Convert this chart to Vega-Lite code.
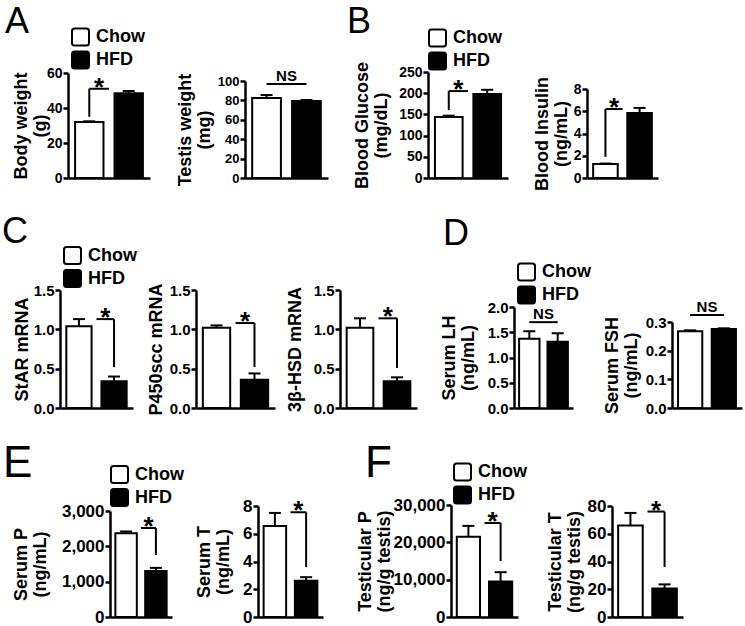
{
"$schema": "https://vega.github.io/schema/vega-lite/v6.json",
"background": "white",
"padding": {"left": 2, "top": 3, "right": 2, "bottom": 0},
"datasets": {
"none": [],
"bw": [{"group":"Chow","mean":32,"upper":32.4},{"group":"HFD","mean":48.5,"upper":49.7}],
"bw_s": [{"lo":35,"top":51,"label":"*"}],
"tw": [{"group":"Chow","mean":82.5,"upper":85.5},{"group":"HFD","mean":79.5,"upper":80.3}],
"tw_s": [{"top":97,"label":"NS"}],
"bg": [{"group":"Chow","mean":144,"upper":147},{"group":"HFD","mean":198,"upper":208}],
"bg_s": [{"lo":160,"top":205,"label":"*"}],
"bi": [{"group":"Chow","mean":1.25,"upper":1.3},{"group":"HFD","mean":5.85,"upper":6.3}],
"bi_s": [{"lo":1.9,"top":6.2,"label":"*"}],
"star": [{"group":"Chow","mean":1.04,"upper":1.13},{"group":"HFD","mean":0.34,"upper":0.4}],
"star_s": [{"lo":0.52,"top":1.13,"label":"*"}],
"p450": [{"group":"Chow","mean":1.02,"upper":1.05},{"group":"HFD","mean":0.36,"upper":0.44}],
"p450_s": [{"lo":0.52,"top":1.08,"label":"*"}],
"hsd": [{"group":"Chow","mean":1.02,"upper":1.14},{"group":"HFD","mean":0.34,"upper":0.39}],
"hsd_s": [{"lo":0.51,"top":1.14,"label":"*"}],
"lh": [{"group":"Chow","mean":1.37,"upper":1.52},{"group":"HFD","mean":1.31,"upper":1.48}],
"lh_s": [{"top":1.7,"label":"NS"}],
"fsh": [{"group":"Chow","mean":0.268,"upper":0.271},{"group":"HFD","mean":0.276,"upper":0.278}],
"fsh_s": [{"top":0.324,"label":"NS"}],
"sp": [{"group":"Chow","mean":2370,"upper":2420},{"group":"HFD","mean":1300,"upper":1390}],
"sp_s": [{"lo":1755,"top":2519,"label":"*"}],
"st": [{"group":"Chow","mean":6.55,"upper":7.5},{"group":"HFD","mean":2.62,"upper":2.87}],
"st_s": [{"lo":3.6,"top":7.55,"label":"*"}],
"tp": [{"group":"Chow","mean":21500,"upper":24400},{"group":"HFD","mean":9500,"upper":12000}],
"tp_s": [{"lo":15000,"top":25180,"label":"*"}],
"tt": [{"group":"Chow","mean":66,"upper":75},{"group":"HFD","mean":20.5,"upper":23.5}],
"tt_s": [{"lo":36,"top":76,"label":"*"}]
},
"columns": 13,
"align": "each",
"bounds": "flush",
"spacing": {"row": 97, "column": 0},
"resolve": {"scale": {"fill": "independent"}, "legend": {"fill": "independent"}},
"concat": [
{"width": 8, "height": 1, "data": {"name": "none"}, "mark": "point"},
{
"width": 42, "height": 106,
"title": {"text": "A", "frame": "group", "dx": -63, "offset": -13},
"resolve": {"axis": {"x": "independent", "y": "independent"}},
"layer": [
{"data": {"name": "bw"}, "mark": {"type": "bar", "stroke": "black", "strokeWidth": 2},
 "encoding": {
  "x": {"field": "group", "type": "nominal", "scale": {"domain": ["Chow","HFD"], "range": [0, 82], "paddingInner": 0.28, "paddingOuter": 0.18}, "axis": {"labels": false, "ticks": false, "title": null}},
  "y": {"field": "mean", "type": "quantitative", "scale": {"domain": [0, 60], "range": [106, 1], "nice": false}, "axis": {"title": ["Body weight", "(g)"], "values": [0, 20, 40, 60], "titlePadding": -3, "labelFontSize": 14}},
  "fill": {"field": "group", "type": "nominal", "scale": {"domain": ["Chow","HFD"], "range": ["white","black"]}, "legend": {"orient": "none", "legendX": 3, "legendY": -44.5, "title": null}}}},
{"data": {"name": "bw"}, "mark": {"type": "rule", "strokeWidth": 2, "color": "black"},
 "encoding": {"x": {"field": "group", "type": "nominal", "axis": null}, "y": {"field": "mean", "type": "quantitative", "axis": null}, "y2": {"field": "upper"}}},
{"data": {"name": "bw"}, "mark": {"type": "tick", "size": 12, "thickness": 2, "color": "black", "opacity": 1},
 "encoding": {"x": {"field": "group", "type": "nominal", "axis": null}, "y": {"field": "upper", "type": "quantitative", "axis": null}}},
{"data": {"name": "bw_s"}, "mark": {"type": "rule", "strokeWidth": 2, "color": "black"},
 "encoding": {"x": {"datum": "Chow", "bandPosition": 0.5, "axis": null}, "y": {"field": "lo", "type": "quantitative", "axis": null}, "y2": {"field": "top"}}},
{"data": {"name": "bw_s"}, "mark": {"type": "rule", "strokeWidth": 2, "color": "black"},
 "encoding": {"x": {"datum": "Chow", "bandPosition": 0.5, "axis": null}, "x2": {"datum": "Chow", "bandPosition": 1.194}, "y": {"field": "top", "type": "quantitative", "axis": null}}},
{"data": {"name": "bw_s"}, "mark": {"type": "text", "fontSize": 26, "fontWeight": "bold", "baseline": "alphabetic", "dy": 7},
 "encoding": {"x": {"datum": "Chow", "bandPosition": 0.847, "axis": null}, "y": {"field": "top", "type": "quantitative", "axis": null}, "text": {"field": "label"}}}
]
},
{"width": 86, "height": 1, "data": {"name": "none"}, "mark": "point"},
{"width": 49, "height": 1, "data": {"name": "none"}, "mark": "point"},
{
"width": 13, "height": 106,
"resolve": {"axis": {"x": "independent", "y": "independent"}},
"layer": [
{"data": {"name": "tw"}, "mark": {"type": "bar", "stroke": "black", "strokeWidth": 2},
 "encoding": {
  "x": {"field": "group", "type": "nominal", "scale": {"domain": ["Chow","HFD"], "range": [0, 83], "paddingInner": 0.28, "paddingOuter": 0.18}, "axis": {"labels": false, "ticks": false, "title": null}},
  "y": {"field": "mean", "type": "quantitative", "scale": {"domain": [0, 100], "range": [106, 9], "nice": false}, "axis": {"title": ["Testis weight", "(mg)"], "values": [0, 20, 40, 60, 80, 100], "titlePadding": 4, "labelFontSize": 13}},
  "fill": {"field": "group", "type": "nominal", "scale": {"domain": ["Chow","HFD"], "range": ["white","black"]}, "legend": null}}},
{"data": {"name": "tw"}, "mark": {"type": "rule", "strokeWidth": 2, "color": "black"},
 "encoding": {"x": {"field": "group", "type": "nominal", "axis": null}, "y": {"field": "mean", "type": "quantitative", "axis": null}, "y2": {"field": "upper"}}},
{"data": {"name": "tw"}, "mark": {"type": "tick", "size": 12, "thickness": 2, "color": "black", "opacity": 1},
 "encoding": {"x": {"field": "group", "type": "nominal", "axis": null}, "y": {"field": "upper", "type": "quantitative", "axis": null}}},
{"data": {"name": "tw_s"}, "mark": {"type": "rule", "strokeWidth": 2, "color": "black"},
 "encoding": {"x": {"datum": "Chow", "bandPosition": 0.5, "axis": null}, "x2": {"datum": "HFD", "bandPosition": 0.5}, "y": {"field": "top", "type": "quantitative", "axis": null}}},
{"data": {"name": "tw_s"}, "mark": {"type": "text", "fontSize": 15, "fontWeight": "bold", "baseline": "alphabetic", "dy": -3},
 "encoding": {"x": {"datum": "Chow", "bandPosition": 1.194, "axis": null}, "y": {"field": "top", "type": "quantitative", "axis": null}, "text": {"field": "label"}}}
]
},
{"width": 82, "height": 1, "data": {"name": "none"}, "mark": "point"},
{"width": 88, "height": 1, "data": {"name": "none"}, "mark": "point"},
{
"width": 23, "height": 106,
"title": {"text": "B", "frame": "group", "dx": -81, "offset": -12},
"resolve": {"axis": {"x": "independent", "y": "independent"}},
"layer": [
{"data": {"name": "bg"}, "mark": {"type": "bar", "stroke": "black", "strokeWidth": 2},
 "encoding": {
  "x": {"field": "group", "type": "nominal", "scale": {"domain": ["Chow","HFD"], "range": [0, 80], "paddingInner": 0.28, "paddingOuter": 0.18}, "axis": {"labels": false, "ticks": false, "title": null}},
  "y": {"field": "mean", "type": "quantitative", "scale": {"domain": [0, 250], "range": [106, 0], "nice": false}, "axis": {"title": ["Blood Glucose", "(mg/dL)"], "values": [0, 50, 100, 150, 200, 250], "titlePadding": 8, "labelFontSize": 14}},
  "fill": {"field": "group", "type": "nominal", "scale": {"domain": ["Chow","HFD"], "range": ["white","black"]}, "legend": {"orient": "none", "legendX": 0, "legendY": -43.5, "title": null}}}},
{"data": {"name": "bg"}, "mark": {"type": "rule", "strokeWidth": 2, "color": "black"},
 "encoding": {"x": {"field": "group", "type": "nominal", "axis": null}, "y": {"field": "mean", "type": "quantitative", "axis": null}, "y2": {"field": "upper"}}},
{"data": {"name": "bg"}, "mark": {"type": "tick", "size": 12, "thickness": 2, "color": "black", "opacity": 1},
 "encoding": {"x": {"field": "group", "type": "nominal", "axis": null}, "y": {"field": "upper", "type": "quantitative", "axis": null}}},
{"data": {"name": "bg_s"}, "mark": {"type": "rule", "strokeWidth": 2, "color": "black"},
 "encoding": {"x": {"datum": "Chow", "bandPosition": 0.5, "axis": null}, "y": {"field": "lo", "type": "quantitative", "axis": null}, "y2": {"field": "top"}}},
{"data": {"name": "bg_s"}, "mark": {"type": "rule", "strokeWidth": 2, "color": "black"},
 "encoding": {"x": {"datum": "Chow", "bandPosition": 0.5, "axis": null}, "x2": {"datum": "Chow", "bandPosition": 1.194}, "y": {"field": "top", "type": "quantitative", "axis": null}}},
{"data": {"name": "bg_s"}, "mark": {"type": "text", "fontSize": 26, "fontWeight": "bold", "baseline": "alphabetic", "dy": 7},
 "encoding": {"x": {"datum": "Chow", "bandPosition": 0.847, "axis": null}, "y": {"field": "top", "type": "quantitative", "axis": null}, "text": {"field": "label"}}}
]
},
{"width": 63, "height": 1, "data": {"name": "none"}, "mark": "point"},
{"width": 73, "height": 1, "data": {"name": "none"}, "mark": "point"},
{
"width": 25, "height": 106,
"resolve": {"axis": {"x": "independent", "y": "independent"}},
"layer": [
{"data": {"name": "bi"}, "mark": {"type": "bar", "stroke": "black", "strokeWidth": 2},
 "encoding": {
  "x": {"field": "group", "type": "nominal", "scale": {"domain": ["Chow","HFD"], "range": [0, 71], "paddingInner": 0.28, "paddingOuter": 0.18}, "axis": {"labels": false, "ticks": false, "title": null}},
  "y": {"field": "mean", "type": "quantitative", "scale": {"domain": [0, 8], "range": [106, 17], "nice": false}, "axis": {"title": ["Blood Insulin", "(ng/mL)"], "values": [0, 2, 4, 6, 8], "titlePadding": 3, "labelFontSize": 14}},
  "fill": {"field": "group", "type": "nominal", "scale": {"domain": ["Chow","HFD"], "range": ["white","black"]}, "legend": null}}},
{"data": {"name": "bi"}, "mark": {"type": "rule", "strokeWidth": 2, "color": "black"},
 "encoding": {"x": {"field": "group", "type": "nominal", "axis": null}, "y": {"field": "mean", "type": "quantitative", "axis": null}, "y2": {"field": "upper"}}},
{"data": {"name": "bi"}, "mark": {"type": "tick", "size": 12, "thickness": 2, "color": "black", "opacity": 1},
 "encoding": {"x": {"field": "group", "type": "nominal", "axis": null}, "y": {"field": "upper", "type": "quantitative", "axis": null}}},
{"data": {"name": "bi_s"}, "mark": {"type": "rule", "strokeWidth": 2, "color": "black"},
 "encoding": {"x": {"datum": "Chow", "bandPosition": 0.5, "axis": null}, "y": {"field": "lo", "type": "quantitative", "axis": null}, "y2": {"field": "top"}}},
{"data": {"name": "bi_s"}, "mark": {"type": "rule", "strokeWidth": 2, "color": "black"},
 "encoding": {"x": {"datum": "Chow", "bandPosition": 0.5, "axis": null}, "x2": {"datum": "Chow", "bandPosition": 1.194}, "y": {"field": "top", "type": "quantitative", "axis": null}}},
{"data": {"name": "bi_s"}, "mark": {"type": "text", "fontSize": 26, "fontWeight": "bold", "baseline": "alphabetic", "dy": 7},
 "encoding": {"x": {"datum": "Chow", "bandPosition": 0.847, "axis": null}, "y": {"field": "top", "type": "quantitative", "axis": null}, "text": {"field": "label"}}}
]
},
{"width": 60, "height": 1, "data": {"name": "none"}, "mark": "point"},
{"width": 70, "height": 1, "data": {"name": "none"}, "mark": "point"},
{
"width": 8, "height": 133,
"title": {"text": "C", "frame": "group", "dx": -58, "offset": -4.6},
"resolve": {"axis": {"x": "independent", "y": "independent"}},
"layer": [
{"data": {"name": "star"}, "mark": {"type": "bar", "stroke": "black", "strokeWidth": 2},
 "encoding": {
  "x": {"field": "group", "type": "nominal", "scale": {"domain": ["Chow","HFD"], "range": [0, 73], "paddingInner": 0.28, "paddingOuter": 0.18}, "axis": {"labels": false, "ticks": false, "title": null}},
  "y": {"field": "mean", "type": "quantitative", "scale": {"domain": [0, 1.5], "range": [133, 15], "nice": false}, "axis": {"title": "StAR mRNA", "values": [0, 0.5, 1, 1.5], "format": ".1f", "titlePadding": 2, "labelFontSize": 15}},
  "fill": {"field": "group", "type": "nominal", "scale": {"domain": ["Chow","HFD"], "range": ["white","black"]}, "legend": {"orient": "none", "legendX": 3, "legendY": -29, "title": null}}}},
{"data": {"name": "star"}, "mark": {"type": "rule", "strokeWidth": 2, "color": "black"},
 "encoding": {"x": {"field": "group", "type": "nominal", "axis": null}, "y": {"field": "mean", "type": "quantitative", "axis": null}, "y2": {"field": "upper"}}},
{"data": {"name": "star"}, "mark": {"type": "tick", "size": 12, "thickness": 2, "color": "black", "opacity": 1},
 "encoding": {"x": {"field": "group", "type": "nominal", "axis": null}, "y": {"field": "upper", "type": "quantitative", "axis": null}}},
{"data": {"name": "star_s"}, "mark": {"type": "rule", "strokeWidth": 2, "color": "black"},
 "encoding": {"x": {"datum": "HFD", "bandPosition": -0.194, "axis": null}, "x2": {"datum": "HFD", "bandPosition": 0.5}, "y": {"field": "top", "type": "quantitative", "axis": null}}},
{"data": {"name": "star_s"}, "mark": {"type": "rule", "strokeWidth": 2, "color": "black"},
 "encoding": {"x": {"datum": "HFD", "bandPosition": 0.5, "axis": null}, "y": {"field": "lo", "type": "quantitative", "axis": null}, "y2": {"field": "top"}}},
{"data": {"name": "star_s"}, "mark": {"type": "text", "fontSize": 26, "fontWeight": "bold", "baseline": "alphabetic", "dy": 7},
 "encoding": {"x": {"datum": "HFD", "bandPosition": 0.153, "axis": null}, "y": {"field": "top", "type": "quantitative", "axis": null}, "text": {"field": "label"}}}
]
},
{"width": 42, "height": 1, "data": {"name": "none"}, "mark": "point"},
{"width": 86, "height": 1, "data": {"name": "none"}, "mark": "point"},
{
"width": 49, "height": 133,
"resolve": {"axis": {"x": "independent", "y": "independent"}},
"layer": [
{"data": {"name": "p450"}, "mark": {"type": "bar", "stroke": "black", "strokeWidth": 2},
 "encoding": {
  "x": {"field": "group", "type": "nominal", "scale": {"domain": ["Chow","HFD"], "range": [0, 79], "paddingInner": 0.28, "paddingOuter": 0.18}, "axis": {"labels": false, "ticks": false, "title": null}},
  "y": {"field": "mean", "type": "quantitative", "scale": {"domain": [0, 1.5], "range": [133, 15], "nice": false}, "axis": {"title": "P450scc  mRNA", "values": [0, 0.5, 1, 1.5], "format": ".1f", "titlePadding": 4, "labelFontSize": 15}},
  "fill": {"field": "group", "type": "nominal", "scale": {"domain": ["Chow","HFD"], "range": ["white","black"]}, "legend": null}}},
{"data": {"name": "p450"}, "mark": {"type": "rule", "strokeWidth": 2, "color": "black"},
 "encoding": {"x": {"field": "group", "type": "nominal", "axis": null}, "y": {"field": "mean", "type": "quantitative", "axis": null}, "y2": {"field": "upper"}}},
{"data": {"name": "p450"}, "mark": {"type": "tick", "size": 12, "thickness": 2, "color": "black", "opacity": 1},
 "encoding": {"x": {"field": "group", "type": "nominal", "axis": null}, "y": {"field": "upper", "type": "quantitative", "axis": null}}},
{"data": {"name": "p450_s"}, "mark": {"type": "rule", "strokeWidth": 2, "color": "black"},
 "encoding": {"x": {"datum": "HFD", "bandPosition": -0.194, "axis": null}, "x2": {"datum": "HFD", "bandPosition": 0.5}, "y": {"field": "top", "type": "quantitative", "axis": null}}},
{"data": {"name": "p450_s"}, "mark": {"type": "rule", "strokeWidth": 2, "color": "black"},
 "encoding": {"x": {"datum": "HFD", "bandPosition": 0.5, "axis": null}, "y": {"field": "lo", "type": "quantitative", "axis": null}, "y2": {"field": "top"}}},
{"data": {"name": "p450_s"}, "mark": {"type": "text", "fontSize": 26, "fontWeight": "bold", "baseline": "alphabetic", "dy": 7},
 "encoding": {"x": {"datum": "HFD", "bandPosition": 0.153, "axis": null}, "y": {"field": "top", "type": "quantitative", "axis": null}, "text": {"field": "label"}}}
]
},
{"width": 13, "height": 1, "data": {"name": "none"}, "mark": "point"},
{"width": 82, "height": 1, "data": {"name": "none"}, "mark": "point"},
{
"width": 88, "height": 133,
"resolve": {"axis": {"x": "independent", "y": "independent"}},
"layer": [
{"data": {"name": "hsd"}, "mark": {"type": "bar", "stroke": "black", "strokeWidth": 2},
 "encoding": {
  "x": {"field": "group", "type": "nominal", "scale": {"domain": ["Chow","HFD"], "range": [0, 77], "paddingInner": 0.28, "paddingOuter": 0.18}, "axis": {"labels": false, "ticks": false, "title": null}},
  "y": {"field": "mean", "type": "quantitative", "scale": {"domain": [0, 1.5], "range": [133, 15], "nice": false}, "axis": {"title": "3β-HSD mRNA", "values": [0, 0.5, 1, 1.5], "format": ".1f", "titlePadding": 9, "labelFontSize": 15}},
  "fill": {"field": "group", "type": "nominal", "scale": {"domain": ["Chow","HFD"], "range": ["white","black"]}, "legend": null}}},
{"data": {"name": "hsd"}, "mark": {"type": "rule", "strokeWidth": 2, "color": "black"},
 "encoding": {"x": {"field": "group", "type": "nominal", "axis": null}, "y": {"field": "mean", "type": "quantitative", "axis": null}, "y2": {"field": "upper"}}},
{"data": {"name": "hsd"}, "mark": {"type": "tick", "size": 12, "thickness": 2, "color": "black", "opacity": 1},
 "encoding": {"x": {"field": "group", "type": "nominal", "axis": null}, "y": {"field": "upper", "type": "quantitative", "axis": null}}},
{"data": {"name": "hsd_s"}, "mark": {"type": "rule", "strokeWidth": 2, "color": "black"},
 "encoding": {"x": {"datum": "HFD", "bandPosition": -0.194, "axis": null}, "x2": {"datum": "HFD", "bandPosition": 0.5}, "y": {"field": "top", "type": "quantitative", "axis": null}}},
{"data": {"name": "hsd_s"}, "mark": {"type": "rule", "strokeWidth": 2, "color": "black"},
 "encoding": {"x": {"datum": "HFD", "bandPosition": 0.5, "axis": null}, "y": {"field": "lo", "type": "quantitative", "axis": null}, "y2": {"field": "top"}}},
{"data": {"name": "hsd_s"}, "mark": {"type": "text", "fontSize": 26, "fontWeight": "bold", "baseline": "alphabetic", "dy": 7},
 "encoding": {"x": {"datum": "HFD", "bandPosition": 0.153, "axis": null}, "y": {"field": "top", "type": "quantitative", "axis": null}, "text": {"field": "label"}}}
]
},
{"width": 23, "height": 1, "data": {"name": "none"}, "mark": "point"},
{"width": 63, "height": 1, "data": {"name": "none"}, "mark": "point"},
{
"width": 73, "height": 133,
"title": {"text": "D", "frame": "group", "dx": -71, "offset": 9.9},
"resolve": {"axis": {"x": "independent", "y": "independent"}},
"layer": [
{"data": {"name": "lh"}, "mark": {"type": "bar", "stroke": "black", "strokeWidth": 2},
 "encoding": {
  "x": {"field": "group", "type": "nominal", "scale": {"domain": ["Chow","HFD"], "range": [0, 59], "paddingInner": 0.28, "paddingOuter": 0.18}, "axis": {"labels": false, "ticks": false, "title": null}},
  "y": {"field": "mean", "type": "quantitative", "scale": {"domain": [0, 2], "range": [133, 32], "nice": false}, "axis": {"title": ["Serum LH", "(ng/mL)"], "values": [0, 0.5, 1, 1.5, 2], "format": ".1f", "titlePadding": 10, "labelFontSize": 15}},
  "fill": {"field": "group", "type": "nominal", "scale": {"domain": ["Chow","HFD"], "range": ["white","black"]}, "legend": {"orient": "none", "legendX": 3, "legendY": -12.5, "title": null}}}},
{"data": {"name": "lh"}, "mark": {"type": "rule", "strokeWidth": 2, "color": "black"},
 "encoding": {"x": {"field": "group", "type": "nominal", "axis": null}, "y": {"field": "mean", "type": "quantitative", "axis": null}, "y2": {"field": "upper"}}},
{"data": {"name": "lh"}, "mark": {"type": "tick", "size": 12, "thickness": 2, "color": "black", "opacity": 1},
 "encoding": {"x": {"field": "group", "type": "nominal", "axis": null}, "y": {"field": "upper", "type": "quantitative", "axis": null}}},
{"data": {"name": "lh_s"}, "mark": {"type": "rule", "strokeWidth": 2, "color": "black"},
 "encoding": {"x": {"datum": "Chow", "bandPosition": 0.5, "axis": null}, "x2": {"datum": "HFD", "bandPosition": 0.5}, "y": {"field": "top", "type": "quantitative", "axis": null}}},
{"data": {"name": "lh_s"}, "mark": {"type": "text", "fontSize": 15, "fontWeight": "bold", "baseline": "alphabetic", "dy": -3},
 "encoding": {"x": {"datum": "Chow", "bandPosition": 1.194, "axis": null}, "y": {"field": "top", "type": "quantitative", "axis": null}, "text": {"field": "label"}}}
]
},
{"width": 25, "height": 1, "data": {"name": "none"}, "mark": "point"},
{"width": 60, "height": 1, "data": {"name": "none"}, "mark": "point"},
{
"width": 70, "height": 133,
"resolve": {"axis": {"x": "independent", "y": "independent"}},
"layer": [
{"data": {"name": "fsh"}, "mark": {"type": "bar", "stroke": "black", "strokeWidth": 2},
 "encoding": {
  "x": {"field": "group", "type": "nominal", "scale": {"domain": ["Chow","HFD"], "range": [0, 70], "paddingInner": 0.28, "paddingOuter": 0.18}, "axis": {"labels": false, "ticks": false, "title": null}},
  "y": {"field": "mean", "type": "quantitative", "scale": {"domain": [0, 0.3], "range": [133, 47], "nice": false}, "axis": {"title": ["Serum FSH", "(ng/mL)"], "values": [0, 0.1, 0.2, 0.3], "format": ".1f", "titlePadding": 5, "labelFontSize": 15}},
  "fill": {"field": "group", "type": "nominal", "scale": {"domain": ["Chow","HFD"], "range": ["white","black"]}, "legend": null}}},
{"data": {"name": "fsh"}, "mark": {"type": "rule", "strokeWidth": 2, "color": "black"},
 "encoding": {"x": {"field": "group", "type": "nominal", "axis": null}, "y": {"field": "mean", "type": "quantitative", "axis": null}, "y2": {"field": "upper"}}},
{"data": {"name": "fsh"}, "mark": {"type": "tick", "size": 12, "thickness": 2, "color": "black", "opacity": 1},
 "encoding": {"x": {"field": "group", "type": "nominal", "axis": null}, "y": {"field": "upper", "type": "quantitative", "axis": null}}},
{"data": {"name": "fsh_s"}, "mark": {"type": "rule", "strokeWidth": 2, "color": "black"},
 "encoding": {"x": {"datum": "Chow", "bandPosition": 0.5, "axis": null}, "x2": {"datum": "HFD", "bandPosition": 0.5}, "y": {"field": "top", "type": "quantitative", "axis": null}}},
{"data": {"name": "fsh_s"}, "mark": {"type": "text", "fontSize": 15, "fontWeight": "bold", "baseline": "alphabetic", "dy": -3},
 "encoding": {"x": {"datum": "Chow", "bandPosition": 1.194, "axis": null}, "y": {"field": "top", "type": "quantitative", "axis": null}, "text": {"field": "label"}}}
]
},
{"width": 8, "height": 1, "data": {"name": "none"}, "mark": "point"},
{"width": 42, "height": 1, "data": {"name": "none"}, "mark": "point"},
{
"width": 86, "height": 112,
"title": {"text": "E", "frame": "group", "dx": -107, "offset": -21, "fontSize": 44},
"resolve": {"axis": {"x": "independent", "y": "independent"}},
"layer": [
{"data": {"name": "sp"}, "mark": {"type": "bar", "stroke": "black", "strokeWidth": 2},
 "encoding": {
  "x": {"field": "group", "type": "nominal", "scale": {"domain": ["Chow","HFD"], "range": [0, 62], "paddingInner": 0.28, "paddingOuter": 0.18}, "axis": {"labels": false, "ticks": false, "title": null}},
  "y": {"field": "mean", "type": "quantitative", "scale": {"domain": [0, 3000], "range": [112, 6], "nice": false}, "axis": {"title": ["Serum P", "(ng/mL)"], "values": [0, 1000, 2000, 3000], "format": ",.0f", "titlePadding": 12, "labelFontSize": 17}},
  "fill": {"field": "group", "type": "nominal", "scale": {"domain": ["Chow","HFD"], "range": ["white","black"]}, "legend": {"orient": "none", "legendX": 0, "legendY": -40, "title": null}}}},
{"data": {"name": "sp"}, "mark": {"type": "rule", "strokeWidth": 2, "color": "black"},
 "encoding": {"x": {"field": "group", "type": "nominal", "axis": null}, "y": {"field": "mean", "type": "quantitative", "axis": null}, "y2": {"field": "upper"}}},
{"data": {"name": "sp"}, "mark": {"type": "tick", "size": 12, "thickness": 2, "color": "black", "opacity": 1},
 "encoding": {"x": {"field": "group", "type": "nominal", "axis": null}, "y": {"field": "upper", "type": "quantitative", "axis": null}}},
{"data": {"name": "sp_s"}, "mark": {"type": "rule", "strokeWidth": 2, "color": "black"},
 "encoding": {"x": {"datum": "HFD", "bandPosition": -0.194, "axis": null}, "x2": {"datum": "HFD", "bandPosition": 0.5}, "y": {"field": "top", "type": "quantitative", "axis": null}}},
{"data": {"name": "sp_s"}, "mark": {"type": "rule", "strokeWidth": 2, "color": "black"},
 "encoding": {"x": {"datum": "HFD", "bandPosition": 0.5, "axis": null}, "y": {"field": "lo", "type": "quantitative", "axis": null}, "y2": {"field": "top"}}},
{"data": {"name": "sp_s"}, "mark": {"type": "text", "fontSize": 26, "fontWeight": "bold", "baseline": "alphabetic", "dy": 7},
 "encoding": {"x": {"datum": "HFD", "bandPosition": 0.153, "axis": null}, "y": {"field": "top", "type": "quantitative", "axis": null}, "text": {"field": "label"}}}
]
},
{"width": 49, "height": 1, "data": {"name": "none"}, "mark": "point"},
{"width": 13, "height": 1, "data": {"name": "none"}, "mark": "point"},
{
"width": 82, "height": 112,
"resolve": {"axis": {"x": "independent", "y": "independent"}},
"layer": [
{"data": {"name": "st"}, "mark": {"type": "bar", "stroke": "black", "strokeWidth": 2},
 "encoding": {
  "x": {"field": "group", "type": "nominal", "scale": {"domain": ["Chow","HFD"], "range": [0, 65], "paddingInner": 0.28, "paddingOuter": 0.18}, "axis": {"labels": false, "ticks": false, "title": null}},
  "y": {"field": "mean", "type": "quantitative", "scale": {"domain": [0, 8], "range": [112, 1], "nice": false}, "axis": {"title": ["Serum T", "(ng/mL)"], "values": [0, 2, 4, 6, 8], "titlePadding": 10, "labelFontSize": 17}},
  "fill": {"field": "group", "type": "nominal", "scale": {"domain": ["Chow","HFD"], "range": ["white","black"]}, "legend": null}}},
{"data": {"name": "st"}, "mark": {"type": "rule", "strokeWidth": 2, "color": "black"},
 "encoding": {"x": {"field": "group", "type": "nominal", "axis": null}, "y": {"field": "mean", "type": "quantitative", "axis": null}, "y2": {"field": "upper"}}},
{"data": {"name": "st"}, "mark": {"type": "tick", "size": 12, "thickness": 2, "color": "black", "opacity": 1},
 "encoding": {"x": {"field": "group", "type": "nominal", "axis": null}, "y": {"field": "upper", "type": "quantitative", "axis": null}}},
{"data": {"name": "st_s"}, "mark": {"type": "rule", "strokeWidth": 2, "color": "black"},
 "encoding": {"x": {"datum": "HFD", "bandPosition": -0.194, "axis": null}, "x2": {"datum": "HFD", "bandPosition": 0.5}, "y": {"field": "top", "type": "quantitative", "axis": null}}},
{"data": {"name": "st_s"}, "mark": {"type": "rule", "strokeWidth": 2, "color": "black"},
 "encoding": {"x": {"datum": "HFD", "bandPosition": 0.5, "axis": null}, "y": {"field": "lo", "type": "quantitative", "axis": null}, "y2": {"field": "top"}}},
{"data": {"name": "st_s"}, "mark": {"type": "text", "fontSize": 26, "fontWeight": "bold", "baseline": "alphabetic", "dy": 7},
 "encoding": {"x": {"datum": "HFD", "bandPosition": 0.153, "axis": null}, "y": {"field": "top", "type": "quantitative", "axis": null}, "text": {"field": "label"}}}
]
},
{"width": 88, "height": 1, "data": {"name": "none"}, "mark": "point"},
{"width": 23, "height": 1, "data": {"name": "none"}, "mark": "point"},
{
"width": 63, "height": 112,
"title": {"text": "F", "frame": "group", "dx": -86, "offset": -23.7, "fontSize": 44},
"resolve": {"axis": {"x": "independent", "y": "independent"}},
"layer": [
{"data": {"name": "tp"}, "mark": {"type": "bar", "stroke": "black", "strokeWidth": 2},
 "encoding": {
  "x": {"field": "group", "type": "nominal", "scale": {"domain": ["Chow","HFD"], "range": [0, 67], "paddingInner": 0.28, "paddingOuter": 0.18}, "axis": {"labels": false, "ticks": false, "title": null}},
  "y": {"field": "mean", "type": "quantitative", "scale": {"domain": [0, 30000], "range": [112, 0], "nice": false}, "axis": {"title": ["Testicular P", "(ng/g testis)"], "values": [0, 10000, 20000, 30000], "format": ",.0f", "titlePadding": 0, "labelFontSize": 17}},
  "fill": {"field": "group", "type": "nominal", "scale": {"domain": ["Chow","HFD"], "range": ["white","black"]}, "legend": {"orient": "none", "legendX": 2, "legendY": -42.5, "title": null}}}},
{"data": {"name": "tp"}, "mark": {"type": "rule", "strokeWidth": 2, "color": "black"},
 "encoding": {"x": {"field": "group", "type": "nominal", "axis": null}, "y": {"field": "mean", "type": "quantitative", "axis": null}, "y2": {"field": "upper"}}},
{"data": {"name": "tp"}, "mark": {"type": "tick", "size": 12, "thickness": 2, "color": "black", "opacity": 1},
 "encoding": {"x": {"field": "group", "type": "nominal", "axis": null}, "y": {"field": "upper", "type": "quantitative", "axis": null}}},
{"data": {"name": "tp_s"}, "mark": {"type": "rule", "strokeWidth": 2, "color": "black"},
 "encoding": {"x": {"datum": "HFD", "bandPosition": -0.194, "axis": null}, "x2": {"datum": "HFD", "bandPosition": 0.5}, "y": {"field": "top", "type": "quantitative", "axis": null}}},
{"data": {"name": "tp_s"}, "mark": {"type": "rule", "strokeWidth": 2, "color": "black"},
 "encoding": {"x": {"datum": "HFD", "bandPosition": 0.5, "axis": null}, "y": {"field": "lo", "type": "quantitative", "axis": null}, "y2": {"field": "top"}}},
{"data": {"name": "tp_s"}, "mark": {"type": "text", "fontSize": 26, "fontWeight": "bold", "baseline": "alphabetic", "dy": 7},
 "encoding": {"x": {"datum": "HFD", "bandPosition": 0.153, "axis": null}, "y": {"field": "top", "type": "quantitative", "axis": null}, "text": {"field": "label"}}}
]
},
{"width": 73, "height": 1, "data": {"name": "none"}, "mark": "point"},
{"width": 25, "height": 1, "data": {"name": "none"}, "mark": "point"},
{
"width": 60, "height": 112,
"resolve": {"axis": {"x": "independent", "y": "independent"}},
"layer": [
{"data": {"name": "tt"}, "mark": {"type": "bar", "stroke": "black", "strokeWidth": 2},
 "encoding": {
  "x": {"field": "group", "type": "nominal", "scale": {"domain": ["Chow","HFD"], "range": [0, 71], "paddingInner": 0.28, "paddingOuter": 0.18}, "axis": {"labels": false, "ticks": false, "title": null}},
  "y": {"field": "mean", "type": "quantitative", "scale": {"domain": [0, 80], "range": [112, 1], "nice": false}, "axis": {"title": ["Testicular T", "(ng/g testis)"], "values": [0, 20, 40, 60, 80], "titlePadding": 4, "labelFontSize": 17}},
  "fill": {"field": "group", "type": "nominal", "scale": {"domain": ["Chow","HFD"], "range": ["white","black"]}, "legend": null}}},
{"data": {"name": "tt"}, "mark": {"type": "rule", "strokeWidth": 2, "color": "black"},
 "encoding": {"x": {"field": "group", "type": "nominal", "axis": null}, "y": {"field": "mean", "type": "quantitative", "axis": null}, "y2": {"field": "upper"}}},
{"data": {"name": "tt"}, "mark": {"type": "tick", "size": 12, "thickness": 2, "color": "black", "opacity": 1},
 "encoding": {"x": {"field": "group", "type": "nominal", "axis": null}, "y": {"field": "upper", "type": "quantitative", "axis": null}}},
{"data": {"name": "tt_s"}, "mark": {"type": "rule", "strokeWidth": 2, "color": "black"},
 "encoding": {"x": {"datum": "HFD", "bandPosition": -0.194, "axis": null}, "x2": {"datum": "HFD", "bandPosition": 0.5}, "y": {"field": "top", "type": "quantitative", "axis": null}}},
{"data": {"name": "tt_s"}, "mark": {"type": "rule", "strokeWidth": 2, "color": "black"},
 "encoding": {"x": {"datum": "HFD", "bandPosition": 0.5, "axis": null}, "y": {"field": "lo", "type": "quantitative", "axis": null}, "y2": {"field": "top"}}},
{"data": {"name": "tt_s"}, "mark": {"type": "text", "fontSize": 26, "fontWeight": "bold", "baseline": "alphabetic", "dy": 7},
 "encoding": {"x": {"datum": "HFD", "bandPosition": 0.153, "axis": null}, "y": {"field": "top", "type": "quantitative", "axis": null}, "text": {"field": "label"}}}
]
},
{"width": 70, "height": 1, "data": {"name": "none"}, "mark": "point"}
],
"config": {
"font": "Liberation Sans",
"view": {"stroke": null},
"axis": {"grid": false, "domainColor": "black", "domainWidth": 2.5, "tickColor": "black", "tickWidth": 2.5, "tickSize": 5, "labelFont": "Liberation Sans", "labelFontWeight": "bold", "labelColor": "black", "labelPadding": 1, "labelFlush": false, "labelOverlap": false, "titleFont": "Liberation Sans", "titleFontWeight": "bold", "titleFontSize": 18, "titleColor": "black", "titleLineHeight": 19},
"title": {"font": "Liberation Sans", "fontSize": 36, "fontWeight": "normal", "anchor": "start", "color": "black"},
"legend": {"symbolType": "M-0.7,-1H0.7A0.3,0.3,0,0,1,1,-0.7V0.7A0.3,0.3,0,0,1,0.7,1H-0.7A0.3,0.3,0,0,1,-1,0.7V-0.7A0.3,0.3,0,0,1,-0.7,-1Z", "symbolSize": 289, "symbolStrokeColor": "black", "symbolStrokeWidth": 2, "symbolOpacity": 1, "labelFont": "Liberation Sans", "labelFontSize": 18, "labelFontWeight": "bold", "labelColor": "black", "rowPadding": -3, "labelOffset": 6, "padding": 0},
"text": {"font": "Liberation Sans", "color": "black"}
}
}
